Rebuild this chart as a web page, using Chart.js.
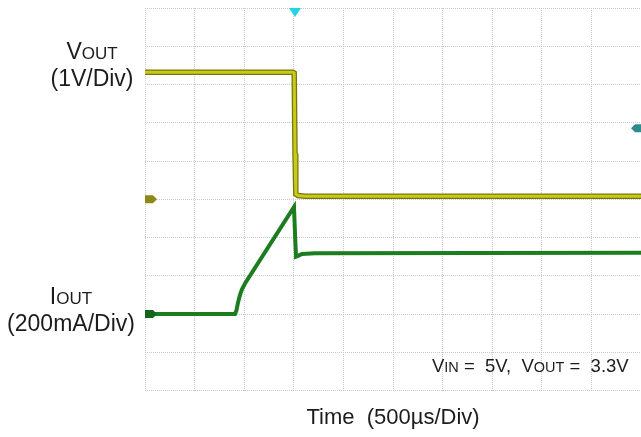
<!DOCTYPE html>
<html>
<head>
<meta charset="utf-8">
<script src="https://cdn.jsdelivr.net/npm/chart.js@4.4.1/dist/chart.umd.min.js"></script>
<style>
  html, body { margin: 0; padding: 0; background: #fff; overflow: hidden; }
  #wrap { position: relative; width: 641px; height: 437px; }
  #grafica { position: absolute; left: 0; top: 0; }
  .lbl { position: absolute; font-family: "Liberation Sans", Arial, sans-serif; color: #1c1c1c; font-size: 23px; line-height: 24px; text-align: center; }
  .lbl small { font-size: 17px; }
  .nota { position: absolute; font-family: "Liberation Sans", Arial, sans-serif; color: #1c1c1c; font-size: 18.5px; white-space: nowrap; }
  .nota small { font-size: 14.5px; }
</style>
</head>
<body>
<div id="wrap">
  <canvas id="grafica" width="641" height="437"></canvas>
  <div class="lbl" style="left:0;top:39px;width:184px;">V<small>OUT</small><br>(1V/Div)</div>
  <div class="lbl" style="left:0;top:284px;width:142px;">I<small>OUT</small><br>(200mA/Div)</div>
  <div class="nota" style="left:432px;top:355px;">V<small>IN</small> = &nbsp;5V, &nbsp;V<small>OUT</small> = &nbsp;3.3V</div>
</div>
<script>
// tiempo en microsegundos (500us por division)
var tiempoV = [0, 1480, 1492, 1500, 1508, 1530, 1600, 2000, 4960];
var vout    = [3.32, 3.32, 3.3, 1.2, 0.14, 0.1, 0.08, 0.08, 0.08];

var tiempoI = [0, 900, 915, 930, 950, 970, 1000, 1490, 1500, 1510, 1530, 1570, 1700, 4960];
var iout    = [0, 0, 20, 60, 100, 130, 160, 560, 420, 300, 304, 314, 318, 320];

var nivelDisparo = 1.86;   // V
var tiempoDisparo = 1500;  // us

function puntos(xs, ys) {
	var p = [];
	for (var i in xs) {
		p.push({x: xs[i], y: ys[i]});
	}
	return p;
}

var marcas = {
	id: 'marcas',
	afterDraw: function(chart) {
		var ctx = chart.ctx;
		var a = chart.chartArea;
		var sx = chart.scales.x;
		var yV = chart.scales.y;
		var yI = chart.scales.yI;
		ctx.save();
		// triangulo de disparo
		var tx = sx.getPixelForValue(tiempoDisparo);
		ctx.fillStyle = '#22d4e6';
		ctx.beginPath();
		ctx.moveTo(tx - 6, a.top);
		ctx.lineTo(tx + 6, a.top);
		ctx.lineTo(tx, a.top + 9);
		ctx.closePath();
		ctx.fill();
		// nivel de disparo
		var ty = yV.getPixelForValue(nivelDisparo);
		ctx.fillStyle = '#2f8c8c';
		ctx.beginPath();
		ctx.moveTo(a.right - 10, ty);
		ctx.lineTo(a.right - 6, ty - 4);
		ctx.lineTo(a.right, ty - 4);
		ctx.lineTo(a.right, ty + 4);
		ctx.lineTo(a.right - 6, ty + 4);
		ctx.closePath();
		ctx.fill();
		// marcas de tierra de cada canal
		var tierras = [[yV.getPixelForValue(0), '#8c8a14'], [yI.getPixelForValue(0), '#14641a']];
		for (var k in tierras) {
			var gy = tierras[k][0];
			ctx.fillStyle = tierras[k][1];
			ctx.beginPath();
			ctx.moveTo(a.left, gy - 4);
			ctx.lineTo(a.left + 8, gy - 4);
			ctx.lineTo(a.left + 12, gy);
			ctx.lineTo(a.left + 8, gy + 4);
			ctx.lineTo(a.left, gy + 4);
			ctx.closePath();
			ctx.fill();
		}
		ctx.restore();
	}
};

var ctx = document.getElementById('grafica').getContext('2d');
var myChart = new Chart(ctx, {
	type: 'line',
	data: {
		datasets: [
			{
				label: 'Vout',
				data: puntos(tiempoV, vout),
				yAxisID: 'y',
				borderColor: '#c9c918',
				borderWidth: 3,
				pointRadius: 0,
				tension: 0
			},
			{
				label: 'Vout borde',
				data: puntos(tiempoV, vout),
				yAxisID: 'y',
				borderColor: '#76760e',
				borderWidth: 5.5,
				pointRadius: 0,
				tension: 0
			},
			{
				label: 'Iout',
				data: puntos(tiempoI, iout),
				yAxisID: 'yI',
				borderColor: '#1b7d1f',
				borderWidth: 4,
				pointRadius: 0,
				tension: 0
			}
		]
	},
	options: {
		responsive: false,
		animation: false,
		layout: { padding: { left: 145, top: 8, right: 0, bottom: 0 } },
		plugins: { legend: { display: false }, tooltip: { enabled: false } },
		scales: {
			x: {
				type: 'linear',
				min: 0,
				max: 4960,
				ticks: { display: false, stepSize: 500, includeBounds: false },
				grid: { color: '#cccccc', lineWidth: 1, drawTicks: false },
				border: { display: false, dash: [1, 1] },
				title: {
					display: true,
					text: 'Time  (500\u00b5s/Div)',
					color: '#1c1c1c',
					font: { family: '"Liberation Sans", Arial, sans-serif', size: 22 },
					padding: { top: 14, bottom: 6 }
				}
			},
			y: {
				min: -5,
				max: 5,
				ticks: { display: false, stepSize: 1 },
				grid: { color: '#cccccc', lineWidth: 1, drawTicks: false },
				border: { display: false, dash: [1, 1] }
			},
			yI: {
				display: false,
				min: -400,
				max: 1600
			}
		}
	},
	plugins: [marcas]
});
</script>
</body>
</html>
